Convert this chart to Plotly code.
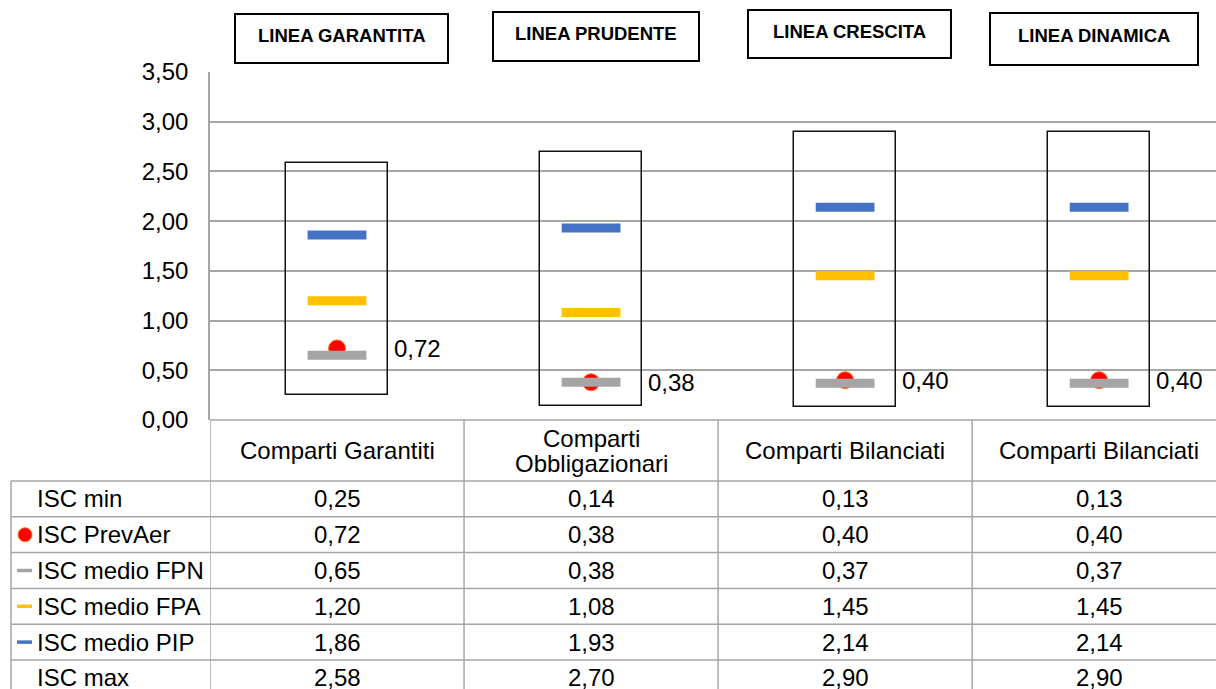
import plotly.graph_objects as go

# ---------------- data ----------------
categories = ["Comparti Garantiti", "Comparti<br>Obbligazionari",
              "Comparti Bilanciati", "Comparti Bilanciati"]
line_titles = ["LINEA GARANTITA", "LINEA PRUDENTE", "LINEA CRESCITA", "LINEA DINAMICA"]
isc_min = [0.25, 0.14, 0.13, 0.13]
isc_prevaer = [0.72, 0.38, 0.40, 0.40]
isc_fpn = [0.65, 0.38, 0.37, 0.37]
isc_fpa = [1.20, 1.08, 1.45, 1.45]
isc_pip = [1.86, 1.93, 2.14, 2.14]
isc_max = [2.58, 2.70, 2.90, 2.90]
row_labels = ["ISC min", "ISC PrevAer", "ISC medio FPN", "ISC medio FPA",
              "ISC medio PIP", "ISC max"]
y_ticks = [0.0, 0.5, 1.0, 1.5, 2.0, 2.5, 3.0, 3.5]

# ---------------- styling / layout ----------------
W, H = 1216, 689
L, T, B = 210, 72, 269
PLOT_BOTTOM = H - B
FONT = "Liberation Sans, Arial, sans-serif"
FS = 24
GRID = "#A6A6A6"
C_RED, C_GREY, C_YEL, C_BLUE = "#FF0000", "#A5A5A5", "#FFC000", "#4472C4"


def fmt(v):
    return f"{v:.2f}".replace(".", ",")


def py(ypx):
    return (PLOT_BOTTOM - ypx) / (PLOT_BOTTOM - T)


def pxp(xpx):
    return (xpx - L) / (W - L)


pos = list(range(len(categories)))
fig = go.Figure()

# min-max boxes
fig.add_trace(go.Bar(
    x=pos, y=[mx - mn for mx, mn in zip(isc_max, isc_min)], base=isc_min,
    width=0.4, marker=dict(color="rgba(0,0,0,0)", line=dict(color="#111111", width=1.5)),
    hoverinfo="skip", showlegend=False))

# PrevAer circle (behind grey dash)
fig.add_trace(go.Scatter(
    x=pos, y=isc_prevaer, mode="markers", name="ISC PrevAer",
    marker=dict(symbol="circle", size=17, color=C_RED, line=dict(color="#FF7A1A", width=1)),
    showlegend=False))

for vals, col, name in [(isc_fpn, C_GREY, "ISC medio FPN"),
                        (isc_fpa, C_YEL, "ISC medio FPA"),
                        (isc_pip, C_BLUE, "ISC medio PIP")]:
    fig.add_trace(go.Scatter(
        x=pos, y=vals, mode="markers", name=name,
        marker=dict(symbol="line-ew", size=42, color=col, line=dict(color=col, width=9)),
        showlegend=False))

annotations = []
shapes = []

# data labels for PrevAer
for i, v in zip(pos, isc_prevaer):
    annotations.append(dict(x=i, y=v, xref="x", yref="y", text=fmt(v), showarrow=False,
                            xanchor="left", yanchor="middle", xshift=55,
                            font=dict(family=FONT, size=FS, color="#000")))

# header boxes (LINEA ...)
header_boxes = [(235, 448, 14, 63, 35), (493, 699, 12, 61, 33),
                (748, 951, 10, 58, 32), (990, 1198, 13, 65, 35)]
for title, (x0, x1, y0, y1, ty) in zip(line_titles, header_boxes):
    shapes.append(dict(type="rect", xref="paper", yref="paper",
                       x0=pxp(x0), x1=pxp(x1), y0=py(y1), y1=py(y0),
                       line=dict(color="#000", width=2), fillcolor="white"))
    annotations.append(dict(x=pxp((x0 + x1) / 2), y=py(ty), xref="paper", yref="paper",
                            text=f"<b>{title}</b>", showarrow=False,
                            xanchor="center", yanchor="middle",
                            font=dict(family=FONT, size=18.5, color="#000")))

# ---------------- data table ----------------
HEADER_TOP = PLOT_BOTTOM
ROW_TOP = 481
ROW_H = 35.8
LEFT_EDGE = 11
TEXT_X = 37
line_style = dict(color=GRID, width=1.5)

# x-axis line / top of table
shapes.append(dict(type="line", xref="paper", yref="paper", x0=0, x1=1,
                   y0=py(HEADER_TOP), y1=py(HEADER_TOP), line=line_style))
# horizontal row lines
for k in range(len(row_labels)):
    yy = ROW_TOP + k * ROW_H
    shapes.append(dict(type="line", xref="paper", yref="paper", x0=pxp(LEFT_EDGE), x1=1,
                       y0=py(yy), y1=py(yy), line=line_style))
# vertical lines
shapes.append(dict(type="line", xref="paper", yref="paper", x0=pxp(LEFT_EDGE), x1=pxp(LEFT_EDGE),
                   y0=py(ROW_TOP), y1=py(H + 5), line=line_style))
for b in [p - 0.5 for p in pos]:
    shapes.append(dict(type="line", xref="x", yref="paper", x0=b, x1=b,
                       y0=py(HEADER_TOP), y1=py(H + 5), line=line_style))

# category header labels
for i, cat in zip(pos, categories):
    parts = cat.split("<br>")
    n = len(parts)
    for k, part in enumerate(parts):
        yc = (HEADER_TOP + ROW_TOP) / 2 + (k - (n - 1) / 2) * 25
        annotations.append(dict(x=i, y=py(yc), xref="x", yref="paper", text=part,
                                showarrow=False, xanchor="center", yanchor="middle",
                                font=dict(family=FONT, size=FS, color="#000")))

rows_data = [isc_min, isc_prevaer, isc_fpn, isc_fpa, isc_pip, isc_max]
key_styles = [None, ("circle", C_RED), ("dash", C_GREY), ("dash", C_YEL), ("dash", C_BLUE), None]
for k, (label, vals, key) in enumerate(zip(row_labels, rows_data, key_styles)):
    yc = ROW_TOP + (k + 0.5) * ROW_H
    annotations.append(dict(x=pxp(TEXT_X), y=py(yc), xref="paper", yref="paper", text=label,
                            showarrow=False, xanchor="left", yanchor="middle", xshift=-2,
                            font=dict(family=FONT, size=FS, color="#000")))
    for i, v in zip(pos, vals):
        annotations.append(dict(x=i, y=py(yc), xref="x", yref="paper", text=fmt(v),
                                showarrow=False, xanchor="center", yanchor="middle",
                                font=dict(family=FONT, size=FS, color="#000")))
    if key is not None:
        kind, col = key
        if kind == "circle":
            shapes.append(dict(type="circle", xref="paper", yref="paper",
                               x0=pxp(18), x1=pxp(32), y0=py(yc + 7), y1=py(yc - 7),
                               fillcolor=col, line=dict(color="#FF7A1A", width=1)))
        else:
            shapes.append(dict(type="line", xref="paper", yref="paper",
                               x0=pxp(17), x1=pxp(32), y0=py(yc), y1=py(yc),
                               line=dict(color=col, width=3.5)))

fig.update_layout(
    width=W, height=H,
    margin=dict(l=L, r=0, t=T, b=B, pad=0),
    paper_bgcolor="white", plot_bgcolor="white",
    separators=",.",
    font=dict(family=FONT, size=FS, color="#000"),
    showlegend=False,
    bargap=0,
    xaxis=dict(range=[-0.5, 3.46], showticklabels=False, showgrid=False, zeroline=False,
               showline=False, ticks="", fixedrange=True),
    yaxis=dict(range=[0, 3.5], tickvals=y_ticks, tickformat=".2f", showgrid=True,
               gridcolor=GRID, gridwidth=1.5, zeroline=False, showline=True,
               linecolor=GRID, linewidth=1.5, ticks="", ticklabelstandoff=15,
               tickfont=dict(family=FONT, size=FS, color="#000"), fixedrange=True),
    shapes=shapes,
    annotations=annotations,
)

fig.write_html("out.html", config={"displayModeBar": False},
               post_script="document.body.style.margin='0';document.body.style.overflow='hidden';")
